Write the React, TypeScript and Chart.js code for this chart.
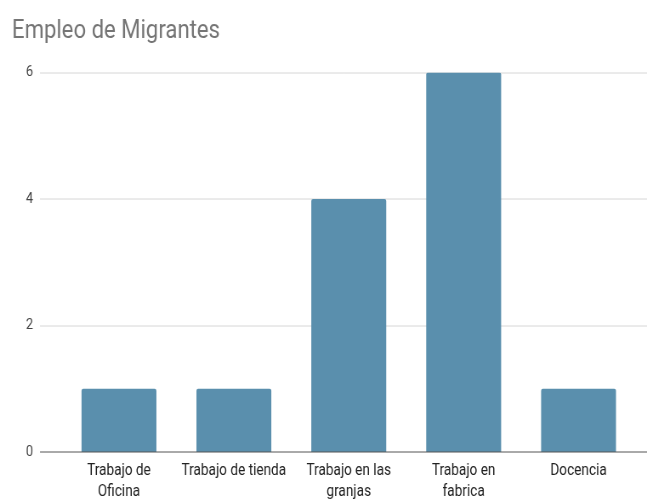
import React, { useEffect, useRef } from "react";
import { Chart, registerables } from "chart.js";

Chart.register(...registerables);

const chartTitle = "Empleo de Migrantes";
const categories: (string | string[])[] = [
  ["Trabajo de", "Oficina"],
  "Trabajo de tienda",
  ["Trabajo en las", "granjas"],
  ["Trabajo en", "fabrica"],
  "Docencia",
];
const values = [1, 1, 4, 6, 1];
const yTicks = [0, 2, 4, 6];

const OUT_W = 647;
const OUT_H = 499;
const CW = 761; // canvas drawn wider, then squeezed horizontally
const SX = OUT_W / CW;
const GRID_LEFT = 40 / SX;
const PAD_LEFT = 12 / SX;
const AREA_LEFT = 61.5 / SX;
const AREA_RIGHT = 636 / SX;
const AREA_TOP = 72.5;
const AREA_BOTTOM = 452;
const FONT = "Roboto, 'Liberation Sans', Arial, sans-serif";

const gridPlugin = {
  id: "customGrid",
  beforeDatasetsDraw(chart: any) {
    const y = chart.scales.y;
    const ctx = chart.ctx;
    ctx.save();
    ctx.strokeStyle = "#d6d6d6";
    ctx.lineWidth = 1;
    y.ticks.forEach((t: any) => {
      if (t.value === 0) return;
      const py = Math.round(y.getPixelForValue(t.value));
      ctx.beginPath();
      ctx.moveTo(GRID_LEFT, py);
      ctx.lineTo(chart.width, py);
      ctx.stroke();
    });
    ctx.restore();
  },
  afterDatasetsDraw(chart: any) {
    const y = chart.scales.y;
    const ctx = chart.ctx;
    ctx.save();
    ctx.strokeStyle = "#555555";
    ctx.lineWidth = 1;
    const py = Math.round(y.getPixelForValue(0));
    ctx.beginPath();
    ctx.moveTo(GRID_LEFT, py);
    ctx.lineTo(chart.width, py);
    ctx.stroke();
    ctx.restore();
  },
};

export default function App() {
  const ref = useRef<HTMLCanvasElement>(null);

  useEffect(() => {
    const titleSize = 26;
    const titleLH = 1.2;
    const titlePadTop = 15.5;
    const titlePadBottom = AREA_TOP - titlePadTop - titleSize * titleLH;
    const chart = new Chart(ref.current as HTMLCanvasElement, {
      type: "bar",
      data: {
        labels: categories,
        datasets: [
          {
            data: values,
            backgroundColor: "#5a8fad",
            barPercentage: 0.652,
            categoryPercentage: 1,
            borderRadius: 2,
          },
        ],
      },
      options: {
        responsive: false,
        animation: false,
        devicePixelRatio: 1,
        layout: {
          padding: { left: PAD_LEFT, right: CW - AREA_RIGHT, top: 0, bottom: 0 },
        },
        plugins: {
          legend: { display: false },
          tooltip: { enabled: false },
          title: {
            display: true,
            text: chartTitle,
            align: "start",
            color: "#757575",
            font: { family: FONT, size: titleSize, weight: "normal", lineHeight: titleLH },
            padding: { top: titlePadTop, bottom: titlePadBottom },
          },
        },
        scales: {
          x: {
            grid: { display: false, drawTicks: false },
            border: { display: false },
            ticks: {
              autoSkip: false,
              maxRotation: 0,
              minRotation: 0,
              padding: 9,
              color: "#222222",
              font: { family: FONT, size: 16, lineHeight: 1.31 },
            },
            afterFit: (s: any) => {
              s.height = OUT_H - AREA_BOTTOM;
            },
          },
          y: {
            min: 0,
            max: 6,
            grid: { display: false, drawTicks: false },
            border: { display: false },
            ticks: {
              padding: AREA_LEFT - 33 / SX,
              color: "#444444",
              font: { family: FONT, size: 15 },
            },
            afterBuildTicks: (s: any) => {
              s.ticks = yTicks.map((v) => ({ value: v }));
            },
            afterFit: (s: any) => {
              s.width = AREA_LEFT - PAD_LEFT;
            },
          },
        },
      },
      plugins: [gridPlugin],
    } as any);
    return () => chart.destroy();
  }, []);

  return (
    <div
      style={{
        position: "absolute",
        left: 0,
        top: 0,
        width: OUT_W,
        height: OUT_H,
        overflow: "hidden",
        background: "#ffffff",
      }}
    >
      <canvas
        ref={ref}
        width={CW}
        height={OUT_H}
        style={{
          display: "block",
          width: CW + "px",
          height: OUT_H + "px",
          transform: `scaleX(${SX})`,
          transformOrigin: "0 0",
        }}
      />
    </div>
  );
}
